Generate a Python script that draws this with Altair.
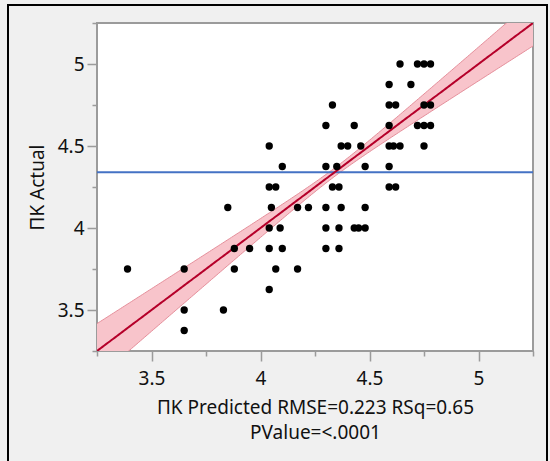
import altair as alt
import numpy as np
import pandas as pd

# Observed (actual) vs. model-predicted values, one entry per point
actual = (
    [5.0] * 4
    + [4.875] * 2
    + [4.75] * 5
    + [4.625] * 6
    + [4.5] * 8
    + [4.375] * 5
    + [4.25] * 6
    + [4.125] * 7
    + [4.0] * 7
    + [3.875] * 6
    + [3.75] * 5
    + [3.625] * 1
    + [3.5] * 2
    + [3.375] * 1
)
predicted = [
    4.64, 4.72, 4.75, 4.78,
    4.59, 4.69,
    4.33, 4.59, 4.62, 4.75, 4.78,
    4.30, 4.43, 4.59, 4.72, 4.75, 4.78,
    4.04, 4.37, 4.40, 4.46, 4.59, 4.61, 4.64, 4.75,
    4.10, 4.30, 4.35, 4.48, 4.59,
    4.04, 4.07, 4.33, 4.36, 4.59, 4.62,
    3.85, 4.05, 4.17, 4.22, 4.30, 4.37, 4.48,
    4.04, 4.09, 4.30, 4.36, 4.43, 4.45, 4.48,
    3.88, 3.95, 4.04, 4.10, 4.30, 4.36,
    3.39, 3.65, 3.88, 4.07, 4.17,
    4.04,
    3.65, 3.83,
    3.65,
]

# Fit summary (actual regressed on predicted)
fit_intercept = 0.0
fit_slope = 1.0
rmse = 0.223
t_crit = 1.98
n_obs = 300
mean_actual = 4.34
sxx = 8.5

axis_ticks = [3.25, 3.5, 3.75, 4.0, 4.25, 4.5, 4.75, 5.0, 5.25]
axis_range = [3.25, 5.25]

x_title = ["\u03a0K Predicted RMSE=0.223 RSq=0.65", "PValue=<.0001"]
y_title = "\u03a0K Actual"

FONT = "Noto Sans"
TEXT = "#111111"
GRAY = "#9b9b9b"

points = pd.DataFrame({"predicted": predicted, "actual": actual})

# Fitted line and its confidence curves over the visible range
grid = np.linspace(axis_range[0], axis_range[1], 241)
fit = fit_intercept + fit_slope * grid
half = t_crit * rmse * np.sqrt(1.0 / n_obs + (grid - mean_actual) ** 2 / sxx)
band = pd.DataFrame({"predicted": grid, "fit": fit, "lo": fit - half, "hi": fit + half})

major = "datum.value % 0.5 === 0"
tick_size = {"condition": {"test": major, "value": 10}, "value": 5}
label_expr = f"{major} ? format(datum.value, '~g') : ''"

x_scale = alt.Scale(domain=axis_range, nice=False, zero=False)
y_scale = alt.Scale(domain=axis_range, nice=False, zero=False)

x_axis = alt.Axis(
    values=axis_ticks, labelExpr=label_expr, tickSize=tick_size, title=x_title,
    titleLineHeight=25, titlePadding=10, labelPadding=8,
)
y_axis = alt.Axis(
    values=axis_ticks, labelExpr=label_expr, tickSize=tick_size, title=y_title,
    titlePadding=10, labelPadding=3,
)

band_area = alt.Chart(band).mark_area(color="#f8c4cb", opacity=1, clip=True).encode(
    x=alt.X("predicted:Q", scale=x_scale, axis=x_axis),
    y=alt.Y("lo:Q", scale=y_scale, axis=y_axis),
    y2="hi:Q",
)
band_lo = alt.Chart(band).mark_line(color="#e58e9a", strokeWidth=1, clip=True).encode(
    x=alt.X("predicted:Q", scale=x_scale), y=alt.Y("lo:Q", scale=y_scale)
)
band_hi = alt.Chart(band).mark_line(color="#e58e9a", strokeWidth=1, clip=True).encode(
    x=alt.X("predicted:Q", scale=x_scale), y=alt.Y("hi:Q", scale=y_scale)
)
mean_rule = alt.Chart(pd.DataFrame({"mean": [mean_actual]})).mark_rule(
    color="#4472c4", strokeWidth=2
).encode(y=alt.Y("mean:Q", scale=y_scale))
fit_line = alt.Chart(band).mark_line(color="#b5002a", strokeWidth=2, clip=True).encode(
    x=alt.X("predicted:Q", scale=x_scale), y=alt.Y("fit:Q", scale=y_scale)
)
dots = alt.Chart(points).mark_circle(color="black", size=54, opacity=1).encode(
    x=alt.X("predicted:Q", scale=x_scale), y=alt.Y("actual:Q", scale=y_scale)
)

# Outer frame around the whole panel
frame = alt.Chart(pd.DataFrame({"k": [0]})).mark_rect(
    fillOpacity=0, stroke="black", strokeWidth=2
).encode(
    x=alt.value(-89), x2=alt.value(450), y=alt.value(-18), y2=alt.value(460)
)

chart = (
    alt.layer(band_area, band_lo, band_hi, mean_rule, fit_line, dots, frame)
    .properties(
        width=436,
        height=328,
        padding={"left": 97, "top": 23, "right": 17, "bottom": 110},
        autosize=alt.AutoSizeParams(type="none"),
        background="#f0f0f0",
    )
    .configure_view(fill="white", stroke=GRAY, strokeWidth=2)
    .configure_axis(
        grid=False,
        domain=False,
        tickColor=GRAY,
        tickWidth=1.5,
        labelFont=FONT,
        labelFontSize=19,
        labelColor=TEXT,
        titleFont=FONT,
        titleFontSize=19,
        titleFontWeight="normal",
        titleColor=TEXT,
    )
)

chart.save("out.html", embed_options={"renderer": "svg", "actions": False})
